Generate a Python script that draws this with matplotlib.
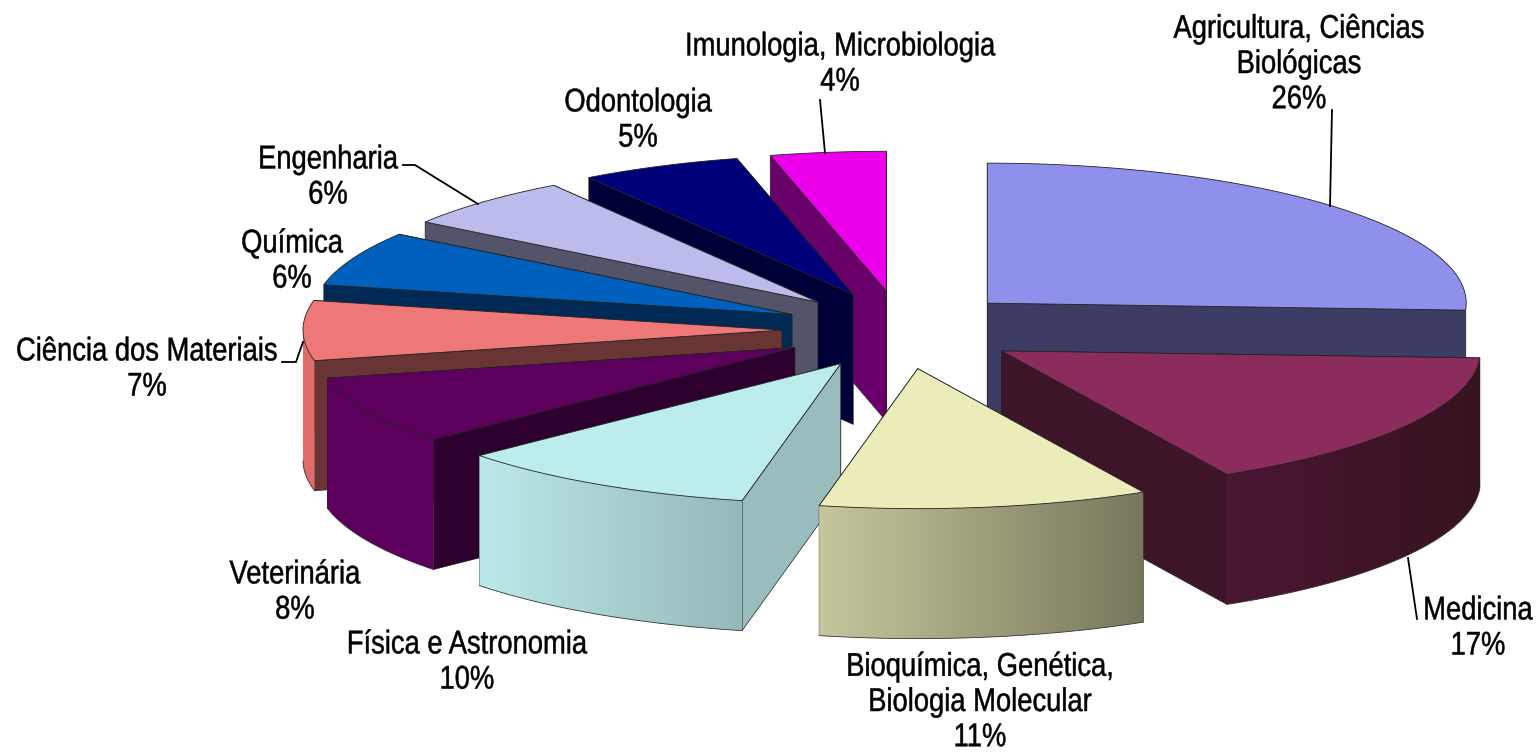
import numpy as np
import matplotlib
matplotlib.use('Agg')
import matplotlib.pyplot as plt
from matplotlib.colors import to_rgb
from matplotlib.patches import Polygon
from matplotlib.patheffects import AbstractPathEffect
from matplotlib.transforms import Affine2D

plt.rcParams['font.family'] = ['Liberation Sans', 'DejaVu Sans']

labels = ['Agricultura, Ciências\nBiológicas', 'Medicina', 'Bioquímica, Genética,\nBiologia Molecular',
          'Física e Astronomia', 'Veterinária', 'Ciência dos Materiais', 'Química', 'Engenharia',
          'Odontologia', 'Imunologia, Microbiologia']
percents = [26, 17, 11, 10, 8, 7, 6, 6, 5, 4]
# slice sizes as measured on the picture, a bit off from the printed percents
values = [25.8, 16.4, 11.1, 10.3, 7.9, 6.9, 6.3, 6.0, 5.4, 3.9]
top_colors = ['#8f8fec', '#8b2c5c', '#ececbb', '#bcecec', '#5d005d', '#ee7777', '#0060bd', '#bbbbec', '#00007b', '#ec00ec']
wall_colors = ['#3c3c64', '#3d1428', '#6e6e58', '#99bcbc', '#2e002e', '#683434', '#002a55', '#53536a', '#000038', '#6a006a']
arc_left = ['#3c3c64', '#4a1632', '#c6c69c', '#bbe9e9', '#5d005d', '#e06c6c', '#002a55', '#53536a', '#000038', '#6a006a']
arc_right = ['#3c3c64', '#37131f', '#77775c', '#96b8b8', '#5d005d', '#e06c6c', '#002a55', '#53536a', '#000038', '#6a006a']
# back slices first, each one hides the walls of the one behind
draw_order = [0, 9, 8, 7, 6, 5, 4, 3, 1, 2]

label_xy = [(1299, 66), (1478, 630), (980, 704), (467, 664), (295, 594), (147, 371), (292, 263), (328, 179), (638, 122), (840, 66)]
leaders = [[(1332, 110), (1330, 206)], [(1408, 558), (1417, 619)], [(403, 165), (415, 165), (478, 204)],
           [(282, 362), (296, 362), (303, 342)], [(820, 100), (825, 153)]]

cx, cy = 901, 330
rx, ry = 479, 140
ex, ey = 119, 39
depth = 130


class TallText(AbstractPathEffect):
  # the original font is taller and narrower than Arial, stretch glyphs up
  def __init__(self, sy):
    super().__init__()
    self.sy = sy

  def draw_path(self, renderer, gc, tpath, affine, rgbFace=None):
    gc0 = renderer.new_gc()
    gc0.copy_properties(gc)
    gc0.set_linewidth(0.35)
    gc0.set_foreground('black')
    renderer.draw_path(gc0, tpath, Affine2D().scale(1, self.sy) + affine, rgbFace)
    gc0.restore()


fig = plt.figure(figsize=(15.37, 7.52), dpi=100, facecolor='white')
ax = fig.add_axes([0, 0, 1, 1])

edges = np.cumsum([0] + values) / sum(values) * 2 * np.pi
z = 1

for i in draw_order:
  a0, a1 = edges[i], edges[i + 1]
  mid = (a0 + a1) / 2
  x0 = cx + ex * np.sin(mid)
  y0 = cy - ey * np.cos(mid)
  t = np.linspace(a0, a1, 60)
  xs = x0 + rx * np.sin(t)
  ys = y0 - ry * np.cos(t)

  # radial walls, the upper one first
  ends = sorted([(xs[0], ys[0]), (xs[-1], ys[-1])], key=lambda q: q[1])
  for xe, ye in ends:
    wall = [(x0, y0), (xe, ye), (xe, ye + depth), (x0, y0 + depth)]
    ax.add_patch(Polygon(wall, closed=True, fc=wall_colors[i], ec='#222222', lw=0.5, zorder=z))
    z += 1

  # outer wall, only the front half of the rim shows, shaded along x
  front = np.cos(t) < 0
  if front.sum() >= 2:
    fx, fy = xs[front], ys[front]
    c1, c2 = np.array(to_rgb(arc_left[i])), np.array(to_rgb(arc_right[i]))
    grad = c1 + (c2 - c1) * np.linspace(0, 1, 256)[None, :, None]
    outline = np.column_stack([np.r_[fx, fx[::-1]], np.r_[fy, fy[::-1] + depth]])
    im = ax.imshow(grad, extent=(fx.min(), fx.max(), (fy + depth).max(), fy.min()), aspect='auto', zorder=z)
    im.set_clip_path(Polygon(outline, closed=True, transform=ax.transData))
    z += 1
    ax.plot(fx, fy + depth, color='#333333', lw=0.6, zorder=z)
    z += 1

  # top face
  top = np.column_stack([np.r_[x0, xs], np.r_[y0, ys]])
  ax.add_patch(Polygon(top, closed=True, fc=top_colors[i], ec='#222222', lw=0.6, zorder=z))
  z += 1

for pts in leaders:
  ax.plot([q[0] for q in pts], [q[1] for q in pts], color='black', lw=1.3, zorder=z)

for name, v, (lx, ly) in zip(labels, percents, label_xy):
  ax.text(lx, ly, f'{name}\n{v}%', ha='center', va='center', fontsize=19.7, color='black', linespacing=1.46,
          zorder=z, path_effects=[TallText(1.2)])

ax.set_xlim(0, 1537)
ax.set_ylim(752, 0)
ax.axis('off')

fig.savefig('out.png', dpi=100, facecolor='white')
